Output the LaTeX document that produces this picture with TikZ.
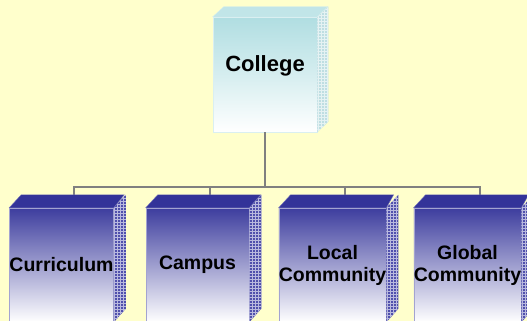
\documentclass[tikz,border=0pt]{standalone}
\usepackage{fontspec}
\setmainfont{Liberation Sans}
\usetikzlibrary{patterns}
\definecolor{paper}{RGB}{255,255,204}
\definecolor{navy}{RGB}{51,51,153}
\definecolor{navyside}{RGB}{80,80,172}
\definecolor{aqua}{RGB}{172,220,224}
\definecolor{aquaside}{RGB}{190,222,226}
\definecolor{linkgray}{RGB}{128,128,128}
\tikzset{front/.style={draw=#1!45!white, line width=0.5pt, minimum width=103pt, minimum height=114pt,
    top color=#1!95!white, middle color=#1!32!white, bottom color=white, align=center, inner sep=0pt,
    font=\bfseries\fontsize{19.5}{22}\selectfont},
  side/.style={fill=#1, postaction={pattern=grid, pattern color=#1!40!white}},
  roof/.style={fill=#1, draw=#1!70!white, line width=0.4pt},
  link/.style={draw=linkgray, line width=2pt}
}

\begin{document}
\begin{tikzpicture}[x=1pt,y=-1pt]
    \useasboundingbox (0,0) rectangle (527,321);
    \fill[paper] (0,0) rectangle (527,321);

    % Front faces
    \node[front=aqua, middle color=aqua!50!white, minimum width=104pt, minimum height=115pt] (college) at (265,74.5) {};
    \node[font=\bfseries\fontsize{22}{26}\selectfont] (college-text) at ([yshift=8.5]college.center) {College};
    \node[front=navy] (curr) at (61.5,265) {Curriculum};
    \node[front=navy] (campus) at (197.5,265) {Campus};
    \node[front=navy] (local) at (332.5,265) {Local\\Community};
    \node[front=navy] (global) at (467.5,265) {Global\\Community};

    % Tops of the lower boxes
    \coordinate (curr-top) at ([shift={(12,-13)}]curr.north);
    \coordinate (campus-top) at ([shift={(12,-13)}]campus.north);
    \coordinate (local-top) at ([shift={(12,-13)}]local.north);
    \coordinate (global-top) at ([shift={(12,-13)}]global.north);

    % Connectors
    \draw[link] (curr-top) -- ++(0,-8) coordinate (bus) -| (global-top);
    \draw[link, line width=2.8pt] (college.south) -- (college.south |- bus);
    \draw[link] (campus-top) -- (campus-top |- bus);
    \draw[link] (local-top) -- (local-top |- bus);

    % College block
    \path[side=aquaside] (college.north east) -- ++(11,-10) -- ++(0,115) -- (college.south east) -- cycle;
    \path[roof=aqua!75!white] (college.north west) -- ++(11,-10) -- ++(104,0) -- (college.north east) -- cycle;

    % Lower blocks
    \path[side=navyside] (curr.north east) -- ++(12,-13) -- ++(0,114) -- (curr.south east) -- cycle;
    \path[roof=navy] (curr.north west) -- ++(12,-13) -- ++(103,0) -- (curr.north east) -- cycle;
    \path[side=navyside] (campus.north east) -- ++(12,-13) -- ++(0,114) -- (campus.south east) -- cycle;
    \path[roof=navy] (campus.north west) -- ++(12,-13) -- ++(103,0) -- (campus.north east) -- cycle;
    \path[side=navyside] (local.north east) -- ++(12,-13) -- ++(0,114) -- (local.south east) -- cycle;
    \path[roof=navy] (local.north west) -- ++(12,-13) -- ++(103,0) -- (local.north east) -- cycle;
    \path[side=navyside] (global.north east) -- ++(12,-13) -- ++(0,114) -- (global.south east) -- cycle;
    \path[roof=navy] (global.north west) -- ++(12,-13) -- ++(103,0) -- (global.north east) -- cycle;
\end{tikzpicture}
\end{document}
